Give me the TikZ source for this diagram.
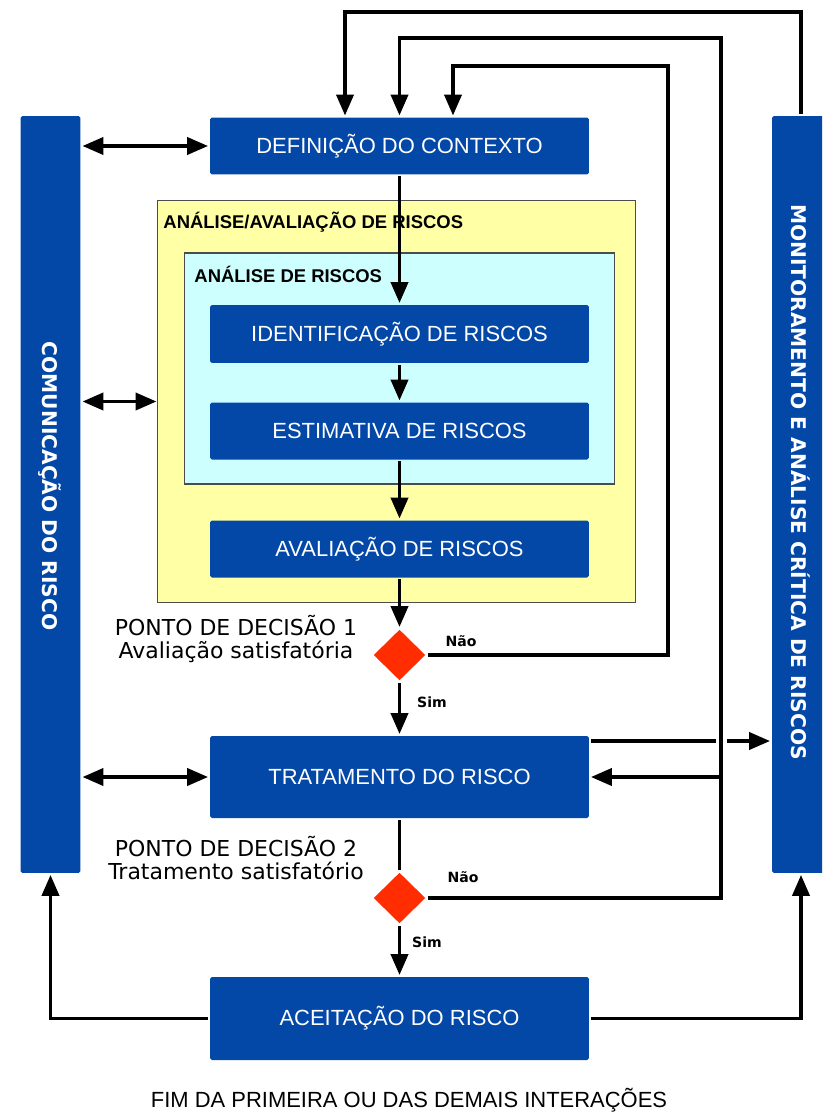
\documentclass[tikz,border=0pt]{standalone}
\usepackage{fontspec}
\setmainfont{Liberation Sans}
\newfontfamily\dejavu{DejaVu Sans}
\usetikzlibrary{arrows.meta}
\usetikzlibrary{positioning}
\usetikzlibrary{shapes.geometric}
\definecolor{rblue}{RGB}{3,71,167}
\definecolor{rred}{RGB}{255,45,0}
\definecolor{ryellow}{RGB}{255,255,166}
\definecolor{rcyan}{RGB}{206,255,255}

\tikzset{
  stage/.style={fill=rblue, text=white, rounded corners=1pt, minimum width=7.58cm,
    minimum height=1.14cm, font=\fontsize{12.5}{14}\selectfont},
  sidebar/.style={fill=rblue, rounded corners=1pt, minimum width=1.2cm, minimum height=15.14cm},
  sidetext/.style={text=white, rotate=-90, font=\dejavu\bfseries\fontsize{11.5}{13}\selectfont},
  decision/.style={diamond, fill=rred, aspect=1, inner sep=0pt, minimum width=1.06cm, minimum height=1.04cm},
  frame/.style={draw=black!70, line width=0.6pt},
  title/.style={inner sep=0pt, font=\bfseries\fontsize{10.5}{12}\selectfont},
  query/.style={align=center, font=\dejavu\fontsize{12.5}{13.6}\selectfont},
  answer/.style={font=\dejavu\bfseries\fontsize{8}{9}\selectfont}
}

\begin{document}
\begin{tikzpicture}[x=0.02cm, y=-0.02cm, line width=2.2pt,
    >={Triangle[length=0.42cm,width=0.34cm]}]
    \clip (0,0) rectangle (822,1112);

    % side bars
    \node (comm) [sidebar] at (50.5,494.5) {};
    \node (commtext) [sidetext] at (50,486) {COMUNICAÇÃO DO RISCO};
    \node (mon) [sidebar, minimum width=1.16cm] at (801,494.5) {};
    \node (montext) [sidetext] at (801,482) {MONITORAMENTO E ANÁLISE CRÍTICA DE RISCOS};

    % analysis frames
    \node (ctx) [stage] at (399.5,146) {DEFINIÇÃO DO CONTEXTO};
    \node (yel) [frame, fill=ryellow, minimum width=9.58cm, minimum height=8.06cm] at (396.5,401.5) {};
    \node (yeltitle) [title, below right=0.22cm and 0.1cm of yel.north west] {ANÁLISE/AVALIAÇÃO DE RISCOS};
    \node (cyan) [frame, fill=rcyan, minimum width=8.62cm, minimum height=4.62cm] at (399.5,368.5) {};
    \node (cyantitle) [title, below right=0.24cm and 0.18cm of cyan.north west] {ANÁLISE DE RISCOS};
    \node (ident) [stage, minimum height=1.16cm] at (399.5,334) {IDENTIFICAÇÃO DE RISCOS};
    \node (estim) [stage] at (399.5,431) {ESTIMATIVA DE RISCOS};
    \node (aval) [stage] at (399.5,549) {AVALIAÇÃO DE RISCOS};

    % decisions
    \node (dec1) [decision] at (399.5,655) {};
    \node (dec1text) [query] at (236,639) {PONTO DE DECISÃO 1\\Avaliação satisfatória};
    \node (trat) [stage, minimum height=1.64cm] at (399.5,777) {TRATAMENTO DO RISCO};
    \node (dec2) [decision] at (399.5,898) {};
    \node (dec2text) [query] at (236,858) {PONTO DE DECISÃO 2\\Tratamento satisfatório};
    \node (acei) [stage, minimum height=1.66cm] at (399.5,1018.5) {ACEITAÇÃO DO RISCO};
    \node (fim) [font=\fontsize{12.5}{14}\selectfont] at (409,1100) {FIM DA PRIMEIRA OU DAS DEMAIS INTERAÇÕES};

    \node (nao1) [answer] at (461,641) {Não};
    \node (sim1) [answer] at (432,702) {Sim};
    \node (nao2) [answer] at (463,877) {Não};
    \node (sim2) [answer] at (427,942) {Sim};

    % loop corners
    \coordinate (top1) at (345,12);
    \coordinate (c2a) at (721,38);
    \coordinate (c2b) at (399.5,38);
    \coordinate (c1a) at (668,66);
    \coordinate (c1b) at (453,66);
    \coordinate (gapL) at (716,741);
    \coordinate (gapR) at (727,741);

    % main flow
    \draw [->] (ctx.south) -- (ident.north);
    \draw [->] (ident.south) -- (estim.north);
    \draw [->] (estim.south) -- (aval.north);
    \draw [->] (aval.south) -- (dec1.north);
    \draw [->] (dec1.south) -- (trat.north);
    \draw (trat.south) -- (dec2.north);
    \draw [->] (dec2.south) -- (acei.north);

    % communication links
    \draw [<->] (ctx.west -| comm.east) -- (ctx.west);
    \draw [<->] (yel.west -| comm.east) -- (yel.west);
    \draw [<->] (trat.west -| comm.east) -- (trat.west);
    \draw [->] (acei.west) -| (comm.south);
    \draw [->] (acei.east) -| (mon.south);

    % feedback loops
    \draw [->] (mon.north) |- (top1) -- (top1 |- ctx.north);
    \draw [->] (dec2.east) -| (c2a) -- (c2b) -- (ctx.north);
    \draw [->] (dec1.east) -| (c1a) -- (c1b) -- (c1b |- ctx.north);
    \draw (trat.east |- gapL) -- (gapL);
    \draw [->] (gapR) -- (gapR -| mon.west);
    \draw [->] (trat.east -| c2a) -- (trat.east);
\end{tikzpicture}
\end{document}
